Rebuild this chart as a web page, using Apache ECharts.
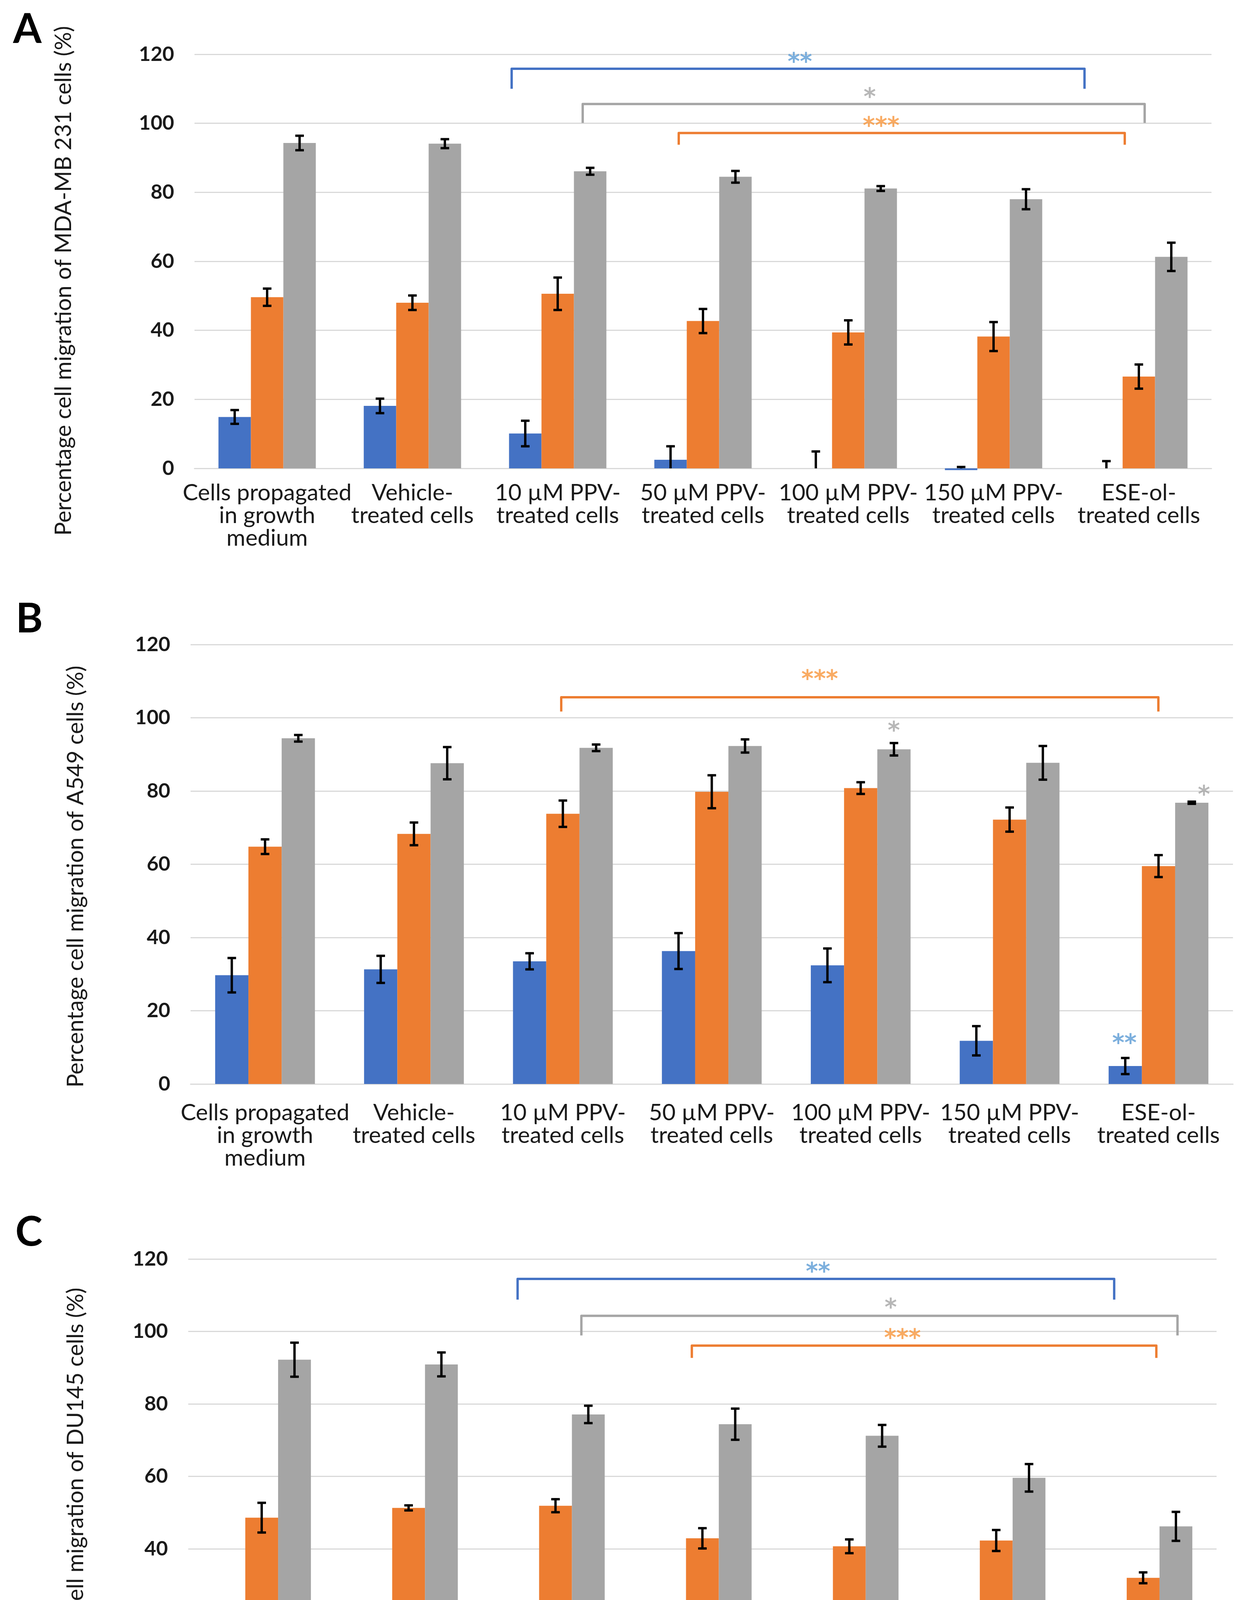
<!DOCTYPE html>
<html><head><meta charset="utf-8">
<script src="https://cdn.jsdelivr.net/npm/echarts/dist/echarts.min.js"></script>
<style>html,body{margin:0;padding:0;background:#fff;overflow:hidden}#c{width:3175px;height:4768px}</style>
</head><body><div id="c"></div><script>
// ---------------- DATA ----------------
const categories = [
  'Cells propagated\nin growth\nmedium',
  'Vehicle-\ntreated cells',
  '10 µM PPV-\ntreated cells',
  '50 µM PPV-\ntreated cells',
  '100 µM PPV-\ntreated cells',
  '150 µM PPV-\ntreated cells',
  'ESE-ol-\ntreated cells'
];
const seriesNames = ['18 h', '24 h', '48 h'];
const yTicks = [0, 20, 40, 60, 80, 100, 120];

// Panel A : MDA-MB 231
const a18 = [14.9, 18.1, 10.1, 2.5, 0, -0.5, 0];
const a18err = [2.0, 2.1, 3.7, 3.9, 4.9, 0.9, 2.1];
const a24 = [49.6, 48.0, 50.6, 42.7, 39.4, 38.2, 26.6];
const a24err = [2.5, 2.1, 4.7, 3.5, 3.5, 4.2, 3.5];
const a48 = [94.3, 94.1, 86.1, 84.5, 81.1, 78.0, 61.3];
const a48err = [2.1, 1.3, 1.0, 1.7, 0.7, 2.9, 4.1];

// Panel B : A549
const b18 = [29.7, 31.3, 33.5, 36.3, 32.4, 11.8, 4.9];
const b18err = [4.7, 3.7, 2.2, 4.9, 4.6, 4.0, 2.2];
const b24 = [64.8, 68.3, 73.8, 79.8, 80.8, 72.2, 59.5];
const b24err = [2.0, 3.1, 3.6, 4.5, 1.6, 3.3, 3.0];
const b48 = [94.4, 87.6, 91.8, 92.3, 91.4, 87.7, 76.8];
const b48err = [0.9, 4.4, 0.9, 1.8, 1.7, 4.6, 0.3];

// Panel C : DU145
const c18 = [22.6, 24.2, 11.2, 9.5, 12.9, 18.7, 1.2];
const c18err = [2.3, 1.2, 2.7, 3.3, 3.5, 2.7, 1.2];
const c24 = [48.6, 51.3, 51.9, 42.9, 40.7, 42.3, 32.0];
const c24err = [4.1, 0.7, 1.8, 2.8, 1.9, 2.9, 1.5];
const c48 = [92.2, 90.9, 77.1, 74.4, 71.2, 59.6, 46.2];
const c48err = [4.7, 3.3, 2.4, 4.3, 3.0, 3.8, 4.0];

// Significance brackets: [series, xStart, xEnd, yBar, yFoot, text, textX, textY] (x in category units, y in %)
const aBrackets = [
  [0, 2.183, 6.126, 115.8, 110.0, '**', 4.167, 118.8],
  [2, 2.672, 6.540, 105.6, 100.1, '*', 4.648, 108.6],
  [1, 3.333, 6.403, 97.2, 93.8, '***', 4.726, 100.3]
];
const bBrackets = [
  [1, 2.489, 6.499, 105.6, 101.7, '***', 4.225, 111.5]
];
const cBrackets = [
  [0, 2.242, 6.303, 114.5, 108.8, '**', 4.287, 117.5],
  [2, 2.676, 6.734, 104.3, 98.9, '*', 4.782, 107.6],
  [1, 3.428, 6.590, 96.1, 92.7, '***', 4.862, 99.1]
];
// Lone significance marks: [series, x, y, text]
const aMarks = [];
const bMarks = [
  [2, 4.723, 97.4, '*'],
  [2, 6.805, 80.0, '*'],
  [0, 6.271, 12.1, '**']
];
const cMarks = [];

const yTitles = [
  'Percentage cell migration of MDA-MB 231 cells (%)',
  'Percentage cell migration of A549 cells (%)',
  'Percentage cell migration of DU145 cells (%)'
];
const panelLetters = ['A', 'B', 'C'];
const xTitle = 'PPV concentration (µM)';

// ---------------- LAYOUT / STYLE ----------------
const FONT = 'Lato';
const STAR_FONT = 'DejaVu Sans';
const barColors = ['#4472C4', '#ED7D31', '#A5A5A5'];
const starColors = ['#5B9BD5', '#F7963C', '#A5A5A5'];
const gridColor = '#D9D9D9';
const textColor = '#1a1a1a';

const panels = [
  { vals: [a18, a24, a48], errs: [a18err, a24err, a48err], brackets: aBrackets, marks: aMarks,
    grid: { left: 498, top: 139, width: 2604, height: 1060 }, labelMargin: 34,
    title: [163, 719], letter: [70, 76] },
  { vals: [b18, b24, b48], errs: [b18err, b24err, b48err], brackets: bBrackets, marks: bMarks,
    grid: { left: 488, top: 1650, width: 2669, height: 1125 }, labelMargin: 45,
    title: [194, 2244], letter: [75, 1585] },
  { vals: [c18, c24, c48], errs: [c18err, c24err, c48err], brackets: cBrackets, marks: cMarks,
    grid: { left: 482, top: 3223, width: 2633, height: 1113 }, labelMargin: 39,
    title: [194, 3860], letter: [74, 3155] }
];

const GAP = 0.33;

function errRender(k) {
  return function (params, api) {
    const cat = api.value(0), v = api.value(1), e = api.value(2);
    const band = api.size([1, 0])[0];
    const bw = band * (1 - GAP) / 3;
    const x = api.coord([cat, v])[0] + (k - 1) * bw;
    const hiV = v + e;
    const loV = Math.max(v - e, 0);
    const yHi = api.coord([cat, hiV])[1];
    const yLo = api.coord([cat, loV])[1];
    const st = { stroke: '#000', lineWidth: 6 };
    const cap = 11;
    const ch = [
      { type: 'line', shape: { x1: x, y1: yHi, x2: x, y2: yLo }, style: st },
      { type: 'line', shape: { x1: x - cap, y1: yHi, x2: x + cap, y2: yHi }, style: st }
    ];
    if (v - e >= 0) ch.push({ type: 'line', shape: { x1: x - cap, y1: yLo, x2: x + cap, y2: yLo }, style: st });
    return { type: 'group', children: ch };
  };
}

const grids = [], xAxes = [], yAxes = [], series = [], graphics = [];

panels.forEach((p, pi) => {
  grids.push(Object.assign({ containLabel: false }, p.grid));
  xAxes.push({
    type: 'category', gridIndex: pi, data: categories,
    axisLine: { show: true, lineStyle: { color: gridColor, width: 3 } },
    axisTick: { show: false },
    axisLabel: { interval: 0, margin: p.labelMargin, fontFamily: FONT, fontSize: 59, lineHeight: 58, color: textColor, align: 'center' }
  });
  yAxes.push({
    type: 'value', gridIndex: pi, min: yTicks[0], max: yTicks[yTicks.length - 1], interval: yTicks[1] - yTicks[0],
    axisLine: { show: false }, axisTick: { show: false },
    splitLine: { lineStyle: { color: gridColor, width: 3 } },
    axisLabel: { margin: 52, fontFamily: FONT, fontSize: 52, fontWeight: 'bold', color: textColor }
  });
});
panels.forEach((p, pi) => {
  xAxes.push({ type: 'value', gridIndex: pi, min: 0, max: categories.length, show: false });
});

panels.forEach((p, pi) => {
  for (let k = 0; k < 3; k++) {
    series.push({
      type: 'bar', name: seriesNames[k], xAxisIndex: pi, yAxisIndex: pi,
      data: p.vals[k], barGap: '0%', barCategoryGap: (GAP * 100) + '%',
      itemStyle: { color: barColors[k] }, clip: false, silent: true, z: 2
    });
  }
  for (let k = 0; k < 3; k++) {
    series.push({
      type: 'custom', name: 'err' + pi + k, xAxisIndex: pi, yAxisIndex: pi,
      renderItem: errRender(k), z: 4, silent: true, clip: false,
      encode: { x: 0, y: 1 },
      data: p.vals[k].map((v, i) => [i, v, p.errs[k][i]])
    });
  }
  const starData = [];
  p.brackets.forEach(b => {
    const [k, x1, x2, yBar, yFoot, txt, tx, ty] = b;
    series.push({
      type: 'line', xAxisIndex: 3 + pi, yAxisIndex: pi,
      data: [[x1, yFoot], [x1, yBar], [x2, yBar], [x2, yFoot]],
      symbol: 'none', lineStyle: { color: barColors[k], width: 6, join: 'round' },
      silent: true, z: 5, clip: false
    });
    starData.push({ value: [tx, ty, txt], k: k });
  });
  p.marks.forEach(m => starData.push({ value: [m[1], m[2], m[3]], k: m[0] }));
  if (starData.length) {
    series.push({
      type: 'scatter', xAxisIndex: 3 + pi, yAxisIndex: pi, symbolSize: 1, silent: true, z: 6, clip: false,
      itemStyle: { color: 'rgba(0,0,0,0)' },
      data: starData.map(d => ({
        value: d.value,
        label: { show: true, position: 'inside', formatter: d.value[2], color: starColors[d.k],
                 fontFamily: STAR_FONT, fontSize: 60, fontWeight: 'bold', offset: [0, 13] }
      }))
    });
  }
  graphics.push({
    type: 'text', x: p.title[0], y: p.title[1], rotation: Math.PI / 2,
    style: { text: yTitles[pi], fontFamily: FONT, fontSize: 58, fill: textColor, textAlign: 'center', textVerticalAlign: 'middle' }
  });
  graphics.push({
    type: 'text', x: p.letter[0], y: p.letter[1],
    style: { text: panelLetters[pi], fontFamily: FONT, fontSize: 105, fontWeight: 'bold', fill: '#000', textAlign: 'center', textVerticalAlign: 'middle' }
  });
});
graphics.push({
  type: 'text', x: 1333, y: 4560,
  style: { text: xTitle, fontFamily: FONT, fontSize: 58, fill: textColor, textAlign: 'left', textVerticalAlign: 'middle' }
});

const legendLefts = [912, 1525, 2043];
const legends = seriesNames.map((n, k) => ({
  data: [n], left: legendLefts[k], top: 4628, padding: 0,
  itemWidth: 125, itemHeight: 112, icon: 'rect', selectedMode: false,
  textStyle: { fontFamily: FONT, fontSize: 58, color: textColor, padding: [0, 0, 24, 38] }
}));

const chart = echarts.init(document.getElementById('c'));
chart.setOption({
  backgroundColor: '#fff',
  animation: false,
  textStyle: { fontFamily: FONT },
  grid: grids, xAxis: xAxes, yAxis: yAxes, series: series,
  legend: legends, graphic: graphics
});
</script></body></html>
